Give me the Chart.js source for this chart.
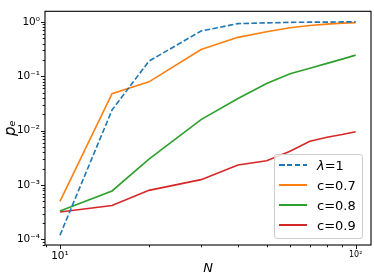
<!DOCTYPE html>
<html>
<head>
<meta charset="utf-8">
<script src="https://cdn.jsdelivr.net/npm/chart.js@4.4.0/dist/chart.umd.min.js"></script>
<style>
  body { margin: 0; background: #fff; }
  .chartContainer { position: relative; width: 374px; height: 279px; }
  .chartLegend {
    position: absolute; left: 274px; top: 154px; width: 87px; height: 83px;
    margin: 0; padding: 0; list-style: none;
    border: 1px solid #cccccc; border-radius: 3px; background: rgba(255,255,255,0.8);
    font-family: "DejaVu Sans", sans-serif; font-size: 13px; color: #000;
  }
  .chartLegend li { position: absolute; left: 0; height: 20px; display: flex; align-items: center; }
  .chartLegendBox { width: 28px; height: 1.6px; margin-left: 4px; }
  .chartLegendLabel { margin-left: 10px; white-space: nowrap; }
</style>
</head>
<body>
<div class="chartContainer">
  <canvas id="chart" width="374" height="279"></canvas>
  <ul class="chartLegend" id="legend"></ul>
</div>
<script>
const nValues = [10, 15, 20, 30, 40, 50, 60, 70, 80, 90, 100];
const lambdaOne = [1.2e-4, 0.024, 0.19, 0.68, 0.93, 0.96, 0.98, 0.99, 0.99, 1.0, 1.0];
const c07 = [5.0e-4, 0.048, 0.079, 0.31, 0.52, 0.66, 0.78, 0.86, 0.91, 0.95, 0.97];
const c08 = [3.35e-4, 7.8e-4, 3.0e-3, 0.016, 0.039, 0.074, 0.111, 0.141, 0.173, 0.207, 0.245];
const c09 = [3.2e-4, 4.2e-4, 8.0e-4, 1.26e-3, 2.35e-3, 2.8e-3, 4.2e-3, 6.4e-3, 7.6e-3, 8.5e-3, 9.6e-3];

const seriesLabels = ["λ=1", "c=0.7", "c=0.8", "c=0.9"];
const seriesColors = ["#1f77b4", "#ff7f0e", "#2ca02c", "#d62728"];

const xTicks = [10, 100];
const xTickLabels = ["10¹", "10²"];
const yTicks = [1e-4, 1e-3, 1e-2, 1e-1, 1];
const yTickLabels = ["10⁻⁴", "10⁻³", "10⁻²", "10⁻¹", "10⁰"];

const xMin = 8.9, xMax = 112.7;
const yMin = 7.92e-5, yMax = 1.567;

const FONT = "'DejaVu Sans', sans-serif";

function minorTicks(lo, hi) {
  const out = [];
  for (let e = Math.floor(Math.log10(lo)); e <= Math.ceil(Math.log10(hi)); e++) {
    for (let k = 2; k <= 9; k++) {
      const v = k * Math.pow(10, e);
      if (v >= lo && v <= hi) out.push(v);
    }
  }
  return out;
}

// frame + outward tick marks, like matplotlib spines
const frameAndTicks = {
  id: "frameAndTicks",
  afterDraw(chart) {
    const { ctx, chartArea: a, scales: { x, y } } = chart;
    ctx.save();
    ctx.strokeStyle = "#000";
    ctx.lineWidth = 0.9;
    ctx.beginPath();
    const tick = (px, len, horiz) => {
      if (horiz) { ctx.moveTo(Math.round(px) + 0.5, a.bottom); ctx.lineTo(Math.round(px) + 0.5, a.bottom + len); }
      else { ctx.moveTo(a.left, Math.round(px) + 0.5); ctx.lineTo(a.left - len, Math.round(px) + 0.5); }
    };
    xTicks.forEach(v => tick(x.getPixelForValue(v), 4, true));
    minorTicks(xMin, xMax).forEach(v => tick(x.getPixelForValue(v), 2.3, true));
    yTicks.forEach(v => tick(y.getPixelForValue(v), 4, false));
    minorTicks(yMin, yMax).forEach(v => tick(y.getPixelForValue(v), 2.3, false));
    ctx.stroke();
    ctx.lineWidth = 1.1;
    ctx.strokeRect(a.left, a.top, a.right - a.left, a.bottom - a.top);
    ctx.restore();
  }
};

const toPoints = vals => nValues.map((n, i) => ({ x: n, y: vals[i] }));
const allSeries = [lambdaOne, c07, c08, c09];

const chart = new Chart(document.getElementById("chart"), {
  type: "line",
  data: {
    datasets: allSeries.map((vals, i) => ({
      label: seriesLabels[i],
      data: toPoints(vals),
      borderColor: seriesColors[i],
      backgroundColor: seriesColors[i],
      borderWidth: 1.6,
      borderDash: i === 0 ? [5.5, 2.4] : [],
      pointRadius: 0,
      tension: 0,
      fill: false,
    })),
  },
  options: {
    responsive: false,
    animation: false,
    events: [],
    layout: { padding: { left: 0, top: 3, right: 3, bottom: 0 } },
    plugins: { legend: { display: false }, tooltip: { enabled: false } },
    scales: {
      x: {
        type: "logarithmic",
        min: xMin,
        max: xMax,
        afterBuildTicks: s => { s.ticks = xTicks.map(v => ({ value: v, major: true })); },
        afterFit: s => { s.height = 34; },
        grid: { display: false, drawTicks: false },
        border: { display: false },
        ticks: {
          autoSkip: false,
          maxRotation: 0,
          padding: 5,
          color: "#000",
          font: c => ({ family: FONT, size: c.tick && c.tick.value === 100 ? 8 : 10.5 }),
          callback: v => xTickLabels[xTicks.indexOf(v)],
        },
        title: {
          display: true,
          text: "N",
          color: "#000",
          font: { family: FONT, size: 13, style: "italic" },
          padding: { top: 0, bottom: 3 },
        },
      },
      y: {
        type: "logarithmic",
        min: yMin,
        max: yMax,
        afterBuildTicks: s => { s.ticks = yTicks.map(v => ({ value: v, major: true })); },
        afterFit: s => { s.width = 45; },
        grid: { display: false, drawTicks: false },
        border: { display: false },
        ticks: {
          autoSkip: false,
          padding: 5,
          color: "#000",
          font: { family: FONT, size: 10.5 },
          callback: v => yTickLabels[yTicks.indexOf(v)],
        },
        title: {
          display: true,
          text: "pₑ",
          color: "#000",
          font: { family: FONT, size: 15, style: "italic" },
          padding: { top: 2, bottom: 0 },
        },
      },
    },
  },
  plugins: [frameAndTicks],
});

// html legend
const legend = document.getElementById("legend");
chart.data.datasets.forEach((d, i) => {
  const li = document.createElement("li");
  li.style.top = (i * 20) + "px";
  const box = document.createElement("div");
  box.className = "chartLegendBox";
  box.style.background = i === 0
    ? `repeating-linear-gradient(to right, ${d.borderColor} 0 5.5px, transparent 5.5px 7.9px)`
    : d.borderColor;
  const label = document.createElement("span");
  label.className = "chartLegendLabel";
  label.innerHTML = d.label.replace("λ", "<i>λ</i>");
  li.appendChild(box);
  li.appendChild(label);
  legend.appendChild(li);
});
</script>
</body>
</html>
